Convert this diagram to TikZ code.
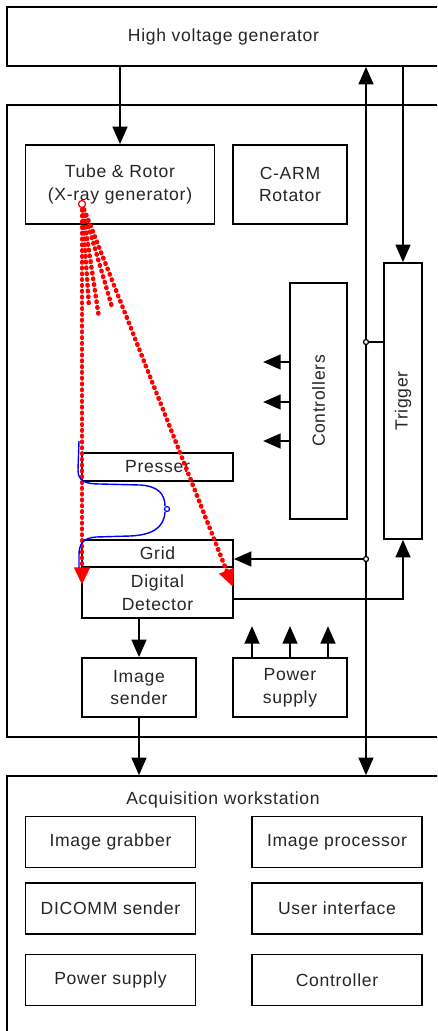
\documentclass[tikz,border=0pt]{standalone}
\usepackage{fontspec}
\setmainfont{Liberation Sans}[LetterSpace=4]
\usetikzlibrary{arrows.meta}

\begin{document}
\begin{tikzpicture}[
  x=0.02cm, y=-0.02cm,
  >={Triangle[length=10pt, width=8.5pt]},
  box/.style={
    draw, line width=1pt, fill=white, inner sep=0pt, align=center,
    text=black!85, font=\fontsize{10}{13}\selectfont
  },
  arr/.style={
    line width=1pt, ->
  },
  ray/.style={
    red, line width=2.6pt, line cap=round, dash pattern=on 0.3pt off 3pt
  },
  junction/.style={
    circle, draw, line width=0.7pt, fill=white, inner sep=0pt, minimum size=1mm
  }
]

\useasboundingbox (0,0) rectangle (437,1031);
\clip (0,0) rectangle (437,1031);

% outer blocks
\node[box, minimum width=86.6mm, minimum height=11.8mm] (hv) at (223.5,36.5) {High voltage generator};
\node[box, minimum width=86.6mm, minimum height=126.4mm] (carm) at (223.5,421) {};
\node[box, minimum width=86.6mm, minimum height=53.6mm] (ws) at (223.5,910) {};
\node[box, draw=none, fill=none] (wstitle) at (223,800) {Acquisition workstation};

% C-arm unit
\node[box, minimum width=37.8mm, minimum height=15.8mm] (tube) at (120,184.5) {Tube \& Rotor\\(X-ray generator)};
\node[box, minimum width=22.8mm, minimum height=15.8mm] (rot) at (290,184.5) {C-ARM\\Rotator};
\node[box, minimum width=11.4mm, minimum height=47.2mm] (ctrl) at (318.5,401) {\rotatebox{90}{Controllers}};
\node[box, minimum width=7.6mm, minimum height=55.2mm] (trig) at (403,401) {\rotatebox{90}{Trigger}};
\node[box, minimum width=30.2mm, minimum height=5.6mm] (press) at (157.5,467) {Presser};
\node[box, minimum width=30.2mm, minimum height=5.4mm] (grid) at (157.5,553.5) {Grid};
\node[box, minimum width=30.2mm, minimum height=10.2mm] (det) at (157.5,592.5) {Digital\\Detector};
\node[box, minimum width=22.8mm, minimum height=11.8mm] (send) at (139,687.5) {Image\\sender};
\node[box, minimum width=22.8mm, minimum height=11.8mm] (pwr) at (290,687.5) {Power\\supply};

% workstation modules
\node[box, minimum width=34mm, minimum height=10.2mm] (grab) at (110.5,842) {Image grabber};
\node[box, minimum width=34mm, minimum height=10.2mm] (proc) at (337,842) {Image processor};
\node[box, minimum width=34mm, minimum height=10.2mm] (dicom) at (110.5,908.5) {DICOMM sender};
\node[box, minimum width=34mm, minimum height=10.2mm] (ui) at (337,908.5) {User interface};
\node[box, minimum width=34mm, minimum height=10.2mm] (wspwr) at (110.5,980) {Power supply};
\node[box, minimum width=34mm, minimum height=10.2mm] (wsctrl) at (337,980) {Controller};

% signal bus and trigger lines
\coordinate (bus) at (366,0);
\coordinate (jt) at (366,342);
\coordinate (jg) at (366,559);
\coordinate (dt) at (233,599);
\draw[arr] (hv.south -| tube.north) -- (tube.north);
\draw[arr, <->] (hv.south -| bus) -- (ws.north -| bus);
\draw[arr] (hv.south -| trig.north) -- (trig.north);
\draw[line width=1pt] (jt) -- (jt -| trig.west);
\draw[arr] (jg) -- (jg -| grid.east);
\draw[arr] (dt) -| (trig.south);
\node[junction] (jtdot) at (jt) {};
\node[junction] (jgdot) at (jg) {};

% controller outputs
\foreach \y in {362,402,441}
  \draw[arr] (ctrl.west |- 0,\y) -- ++(-26,0);
% power outputs
\foreach \x in {252,290,328}
  \draw[arr] (\x,0 |- pwr.north) -- ++(0,-31);

% image path
\draw[arr] (send.north |- det.south) -- (send.north);
\draw[arr] (send.south) -- (send.south |- ws.north);

% x-ray fan
\coordinate (src) at (82,204);
\coordinate (beamL) at (82,585);
\coordinate (beamR) at (233,587);
\draw[ray] (src) -- (89,307);
\draw[ray] (src) -- (99,318);
\draw[ray] (src) -- (112,307);
\draw[ray, ->] (src) -- (beamL);
\draw[ray, ->] (src) -- (beamR);
\node[junction, draw=red, minimum size=1.4mm] (srcdot) at (src) {};

% compression cable
\draw[blue, line width=0.8pt] (79,441) -- (78,470)
  .. controls (78,481) and (85,484) .. (100,484) -- (140,485)
  .. controls (158,486) and (165,494) .. (165,506);
\draw[blue, line width=0.8pt] (165,512)
  .. controls (164,528) and (152,535) .. (130,536) -- (96,537)
  .. controls (83,538) and (79,544) .. (79,555) -- (79,568);
\node[junction, draw=blue, minimum size=1mm] (cabletip) at (167,509) {};

\end{tikzpicture}
\end{document}
